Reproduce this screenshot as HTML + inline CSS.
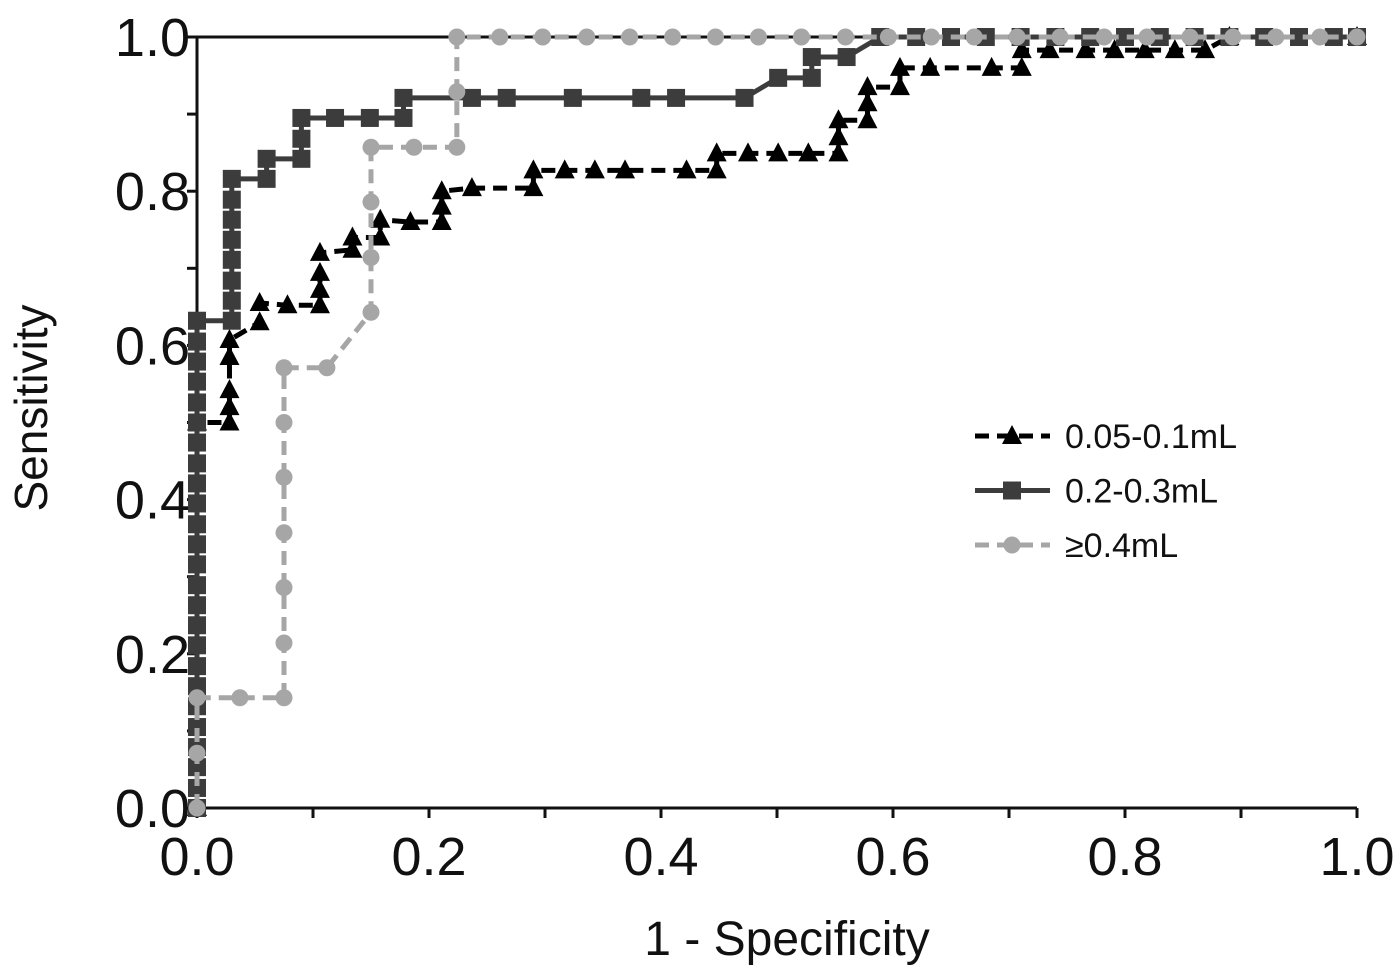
<!DOCTYPE html>
<html><head><meta charset="utf-8"><style>
html,body{margin:0;padding:0;background:#fff;}
svg text{font-family:"Liberation Sans",sans-serif;}
</style></head><body>
<svg id="chart" width="1400" height="971" viewBox="0 0 1400 971" xmlns="http://www.w3.org/2000/svg">
<g id="axes"></g>
<g id="series"></g>
<g id="legend"></g>
<text x="787" y="955" font-size="48" text-anchor="middle" fill="#111">1 - Specificity</text>
<text transform="translate(47,408) rotate(-90)" font-size="46" text-anchor="middle" fill="#111">Sensitivity</text>
</svg>
<script>
const xTickLabels=["0.0","0.2","0.4","0.6","0.8","1.0"];
const yTickLabels=["0.0","0.2","0.4","0.6","0.8","1.0"];
const triX=[0,0,0.028,0.028,0.028,0.028,0.028,0.054,0.054,0.078,0.106,0.106,0.106,0.106,0.134,0.134,0.158,0.158,0.184,0.211,0.211,0.211,0.237,0.290,0.290,0.317,0.343,0.369,0.422,0.448,0.448,0.475,0.501,0.527,0.553,0.553,0.553,0.578,0.578,0.578,0.606,0.606,0.632,0.685,0.711,0.711,0.735,0.766,0.791,0.817,0.843,0.869,0.89,1.0];
const triY=[0,0.5,0.5,0.52,0.542,0.585,0.607,0.63,0.655,0.652,0.652,0.672,0.694,0.72,0.724,0.74,0.74,0.763,0.76,0.76,0.78,0.80,0.804,0.804,0.827,0.827,0.827,0.827,0.827,0.827,0.849,0.849,0.849,0.849,0.849,0.870,0.892,0.892,0.914,0.935,0.935,0.96,0.96,0.96,0.96,0.983,0.983,0.983,0.983,0.983,0.983,0.983,1.0,1.0];
const sqX=[0,0,0,0,0,0,0,0,0,0,0,0,0,0,0,0,0,0,0,0,0,0,0,0,0,0.030,0.030,0.030,0.030,0.030,0.030,0.030,0.030,0.060,0.060,0.090,0.090,0.090,0.119,0.149,0.178,0.178,0.237,0.267,0.324,0.383,0.413,0.472,0.501,0.530,0.530,0.560,0.589,0.620,0.650,0.680,0.710,0.740,0.770,0.800,0.830,0.860,0.890,0.920,0.950,0.980,1.0];
const sqY=[0,0.026,0.053,0.079,0.105,0.132,0.158,0.184,0.211,0.237,0.263,0.289,0.316,0.342,0.368,0.395,0.421,0.447,0.474,0.5,0.526,0.553,0.579,0.605,0.632,0.632,0.658,0.684,0.711,0.737,0.763,0.789,0.816,0.816,0.842,0.842,0.868,0.895,0.895,0.895,0.895,0.921,0.921,0.921,0.921,0.921,0.921,0.921,0.947,0.947,0.974,0.974,1.0,1.0,1.0,1.0,1.0,1.0,1.0,1.0,1.0,1.0,1.0,1.0,1.0,1.0,1.0];
const ciX=[0,0,0,0.037,0.075,0.075,0.075,0.075,0.075,0.075,0.075,0.112,0.15,0.15,0.15,0.15,0.187,0.224,0.224,0.224,0.261,0.298,0.336,0.373,0.410,0.447,0.484,0.521,0.559,0.596,0.633,0.670,0.707,0.744,0.782,0.819,0.856,0.893,0.930,0.968,1.0];
const ciY=[0,0.071,0.143,0.143,0.143,0.214,0.286,0.357,0.429,0.5,0.571,0.571,0.643,0.714,0.786,0.857,0.857,0.857,0.929,1,1,1,1,1,1,1,1,1,1,1,1,1,1,1,1,1,1,1,1,1,1];
const NS="http://www.w3.org/2000/svg";
const X0=197,X1=1357,Y0=808,Y1=37;
const sx=v=>X0+v*(X1-X0), sy=v=>Y0-v*(Y0-Y1);
function mk(tag,attrs,parent){const e=document.createElementNS(NS,tag);for(const k in attrs)e.setAttribute(k,attrs[k]);parent.appendChild(e);return e;}
const axes=document.getElementById('axes');
let e;
e=mk('path',{d:`M${X0},${Y1}H${X1}M${X0},${Y1}V${Y0}H${X1}`,stroke:'#111','stroke-width':3,fill:'none'},axes);


for(let i=0;i<=10;i++){
 e=mk('line',{x1:sx(i/10),x2:sx(i/10),y1:Y0,y2:Y0+10,stroke:'#111','stroke-width':3},axes);
 
 
 e=mk('line',{x1:X0-10,x2:X0,y1:sy(i/10),y2:sy(i/10),stroke:'#111','stroke-width':3},axes);
 
 
}
xTickLabels.forEach((t,i)=>{const v=parseFloat(t);
 e=mk('text',{x:sx(v),y:875,'font-size':54,'text-anchor':'middle',fill:'#111'},axes);e.textContent=t;
 
 
});
yTickLabels.forEach((t,i)=>{const v=parseFloat(t);
 e=mk('text',{x:190,y:sy(v)+19,'font-size':54,'text-anchor':'end',fill:'#111'},axes);e.textContent=t;
 
 
});
const ser=document.getElementById('series');
function marker(type,x,y,color,g){
 if(type==='sq') return mk('rect',{x:x-9,y:y-9,width:18,height:18,fill:color},g);
 if(type==='ci') return mk('circle',{cx:x,cy:y,r:8.5,fill:color},g);
 return mk('path',{d:`M${x},${y-11}L${x+10},${y+8}L${x-10},${y+8}Z`,fill:color},g);
}
function drawSeries(xs,ys,type,color,dash,name){
 const g=mk('g',{},ser);
 
 
 const d=xs.map((v,i)=>(i?'L':'M')+sx(v)+','+sy(ys[i])).join('');
 e=mk('path',{d,stroke:color,'stroke-width':5,fill:'none','stroke-dasharray':dash},g);
 
 
 xs.forEach((v,i)=>{e=marker(type,sx(v),sy(ys[i]),color,g);
  
  
 });
}
drawSeries(triX,triY,'tri','#000','14 8','series-0-05-0-1ml');
drawSeries(sqX,sqY,'sq','#3c3c3c','none','series-0-2-0-3ml');
drawSeries(ciX,ciY,'ci','#a6a6a6','14 8','series-0-4ml');
const leg=document.getElementById('legend');
const items=[["0.05-0.1mL",'tri','#000','14 8'],["0.2-0.3mL",'sq','#3c3c3c','none'],["≥0.4mL",'ci','#a6a6a6','14 8']];
items.forEach((it,i)=>{const y=436+i*54.5;
 const g=mk('g',{},leg);
 
 
 mk('line',{x1:975,x2:1050,y1:y,y2:y,stroke:it[2],'stroke-width':5,'stroke-dasharray':it[3]},g);
 marker(it[1],1012,y,it[2],g);
 const t=mk('text',{x:1065,y:y+12,'font-size':34,fill:'#111'},g);t.textContent=it[0];
});
</script>
</body></html>
